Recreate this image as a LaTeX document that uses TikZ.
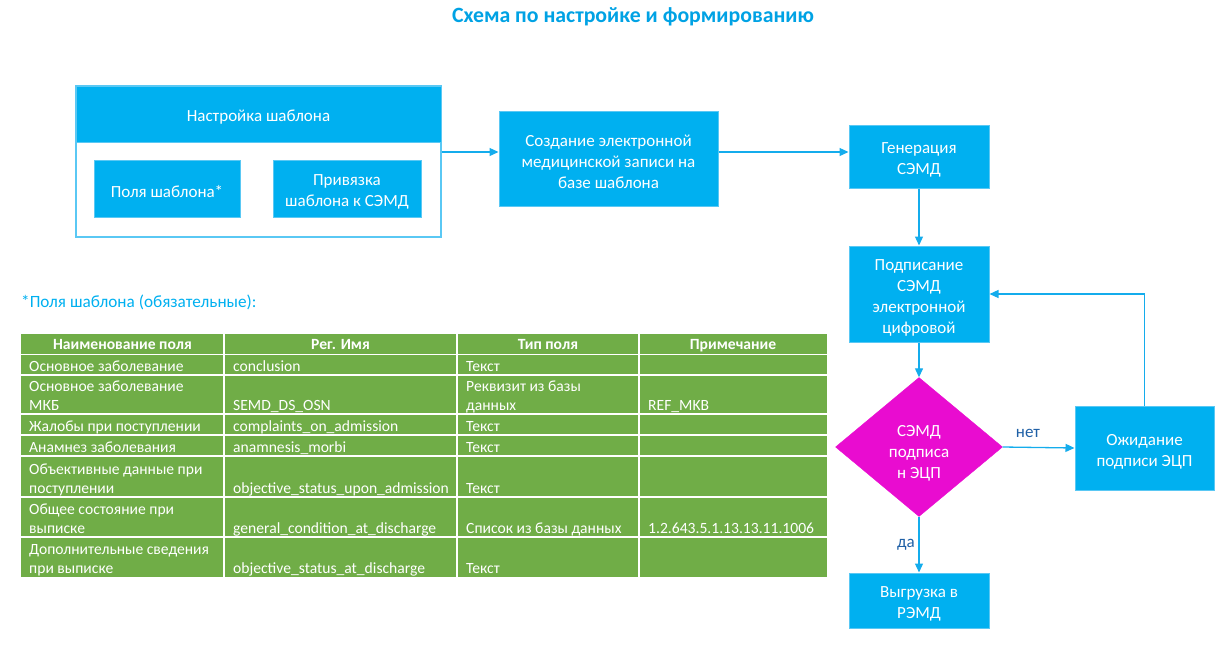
\documentclass[tikz,border=0pt]{standalone}
\usepackage{fontspec}
\setmainfont{Carlito}
\usetikzlibrary{shapes.geometric,arrows.meta}
\definecolor{cyanbox}{RGB}{0,176,240}
\definecolor{cyanline}{RGB}{90,200,244}
\definecolor{arrowc}{RGB}{20,172,236}
\definecolor{tgreen}{RGB}{112,173,71}
\definecolor{magentad}{RGB}{233,12,208}
\definecolor{labelc}{RGB}{31,96,166}
\definecolor{titlec}{RGB}{0,162,228}
\newcommand{\bxfont}{\fontsize{17}{21}\selectfont}
\newcommand{\tbfont}{\fontsize{15.6}{19}\selectfont}
\newcommand{\dn}{\rule{0pt}{18.5pt}}
\newcommand{\ddn}{\rule{0pt}{24.5pt}}
\begin{document}
\begin{tikzpicture}[x=1pt,y=-1pt,
  box/.style={draw=cyanline, line width=1pt, fill=cyanbox, text=white, inner sep=0pt, align=center, font=\bxfont},
  arr/.style={draw=arrowc, line width=1.3pt, -{Triangle[length=9pt,width=8pt]}},
  cell/.style={anchor=base west, inner sep=0pt, text=white, font=\tbfont},
  hcell/.style={anchor=base, inner sep=0pt, text=white, font=\tbfont\bfseries},
  lab/.style={inner sep=0pt, text=labelc, font=\fontsize{17}{20}\selectfont}]
\useasboundingbox (0,0) rectangle (1226,645);

% title
\node[anchor=base, inner sep=0pt, text=titlec, font=\fontsize{21.8}{26}\selectfont\bfseries] (title) at (633,23) {Схема по настройке и формированию};

% template setup group
\node[draw=cyanline, line width=1.2pt, fill=white, minimum width=365pt, minimum height=151pt, inner sep=0pt] (outer) at (258.5,161.5) {};
\node[box, minimum width=365pt, minimum height=56pt] (header) at (258.5,114) {\dn Настройка шаблона};
\node[box, minimum width=146pt, minimum height=57pt] (fields) at (167,188.5) {\dn Поля шаблона*};
\node[box, minimum width=148pt, minimum height=57pt] (bind) at (347,188.5) {\dn Привязка\\шаблона к СЭМД};

\node[box, minimum width=219pt, minimum height=95pt] (create) at (608.5,158.5) {\dn Создание электронной\\медицинской записи на\\базе шаблона};
\node[box, minimum width=140pt, minimum height=63pt] (gen) at (919,156.5) {\dn Генерация\\СЭМД};
\node[box, minimum width=140pt, minimum height=96pt] (sign) at (919,294) {\dn Подписание\\СЭМД\\электронной\\цифровой};
\node[diamond, draw=magentad, fill=magentad, text=white, minimum width=167pt, minimum height=139pt, inner sep=0pt, align=center, font=\bxfont] (dia) at (919,447) {\ddn СЭМД\\подписа\\н ЭЦП};
\node[box, minimum width=139pt, minimum height=84pt] (wait) at (1144.5,448) {\dn Ожидание\\подписи ЭЦП};
\node[box, minimum width=140pt, minimum height=55pt] (upload) at (919,600.5) {\dn Выгрузка в\\РЭМД};

% connectors
\coordinate (r1) at (0,152);
\draw[arr] (outer.east |- r1) -- (create.west |- r1);
\draw[arr] (create.east |- r1) -- (gen.west |- r1);
\draw[arr] (gen.south) -- (sign.north);
\draw[arr] (sign.south) -- (dia.north);
\draw[arr] (dia.east) -- (wait.west);
\draw[arr] (dia.south) -- (upload.north);
\draw[arr] (wait.north) |- (sign.east);
\node[lab] (no) at (1028,433) {нет};
\node[lab] (yes) at (906,545) {да};

% note
\node[anchor=base west, inner sep=0pt, text=cyanbox, font=\fontsize{17.2}{20}\selectfont] (note) at (21,307) {*Поля шаблона (обязательные):};

% table
\fill[tgreen] (21,334) rectangle (827,577);
\foreach \yy in {354.5,375,414,435,456,497,537}
  \draw[white, line width=1.3pt] (21,\yy) -- (827,\yy);
\foreach \xx in {224,457,639}
  \draw[white, line width=1.3pt] (\xx,334) -- (\xx,577);

\node[hcell] (h1) at (122.5,349) {Наименование поля};
\node[hcell] (h2) at (340.5,349) {Рег. Имя};
\node[hcell] (h3) at (548,349) {Тип поля};
\node[hcell] (h4) at (733,349) {Примечание};

\node[cell] (a1) at (29,371) {Основное заболевание};
\node[cell] (b1) at (233,371) {conclusion};
\node[cell] (c1) at (466,371) {Текст};

\node[cell] (a2) at (29,391) {Основное заболевание};
\node[cell] (a2b) at (29,410) {МКБ};
\node[cell] (b2) at (233,410) {SEMD\_DS\_OSN};
\node[cell] (c2) at (466,391) {Реквизит из базы};
\node[cell] (c2b) at (466,410) {данных};
\node[cell] (d2) at (648,410) {REF\_MKB};

\node[cell] (a3) at (29,431) {Жалобы при поступлении};
\node[cell] (b3) at (233,431) {complaints\_on\_admission};
\node[cell] (c3) at (466,431) {Текст};

\node[cell] (a4) at (29,452) {Анамнез заболевания};
\node[cell] (b4) at (233,452) {anamnesis\_morbi};
\node[cell] (c4) at (466,452) {Текст};

\node[cell] (a5) at (29,474) {Объективные данные при};
\node[cell] (a5b) at (29,493) {поступлении};
\node[cell] (b5) at (233,493) {objective\_status\_upon\_admission};
\node[cell] (c5) at (466,493) {Текст};

\node[cell] (a6) at (29,514) {Общее состояние при};
\node[cell] (a6b) at (29,533) {выписке};
\node[cell] (b6) at (233,533) {general\_condition\_at\_discharge};
\node[cell] (c6) at (466,533) {Список из базы данных};
\node[cell] (d6) at (648,533) {1.2.643.5.1.13.13.11.1006};

\node[cell] (a7) at (29,554) {Дополнительные сведения};
\node[cell] (a7b) at (29,573) {при выписке};
\node[cell] (b7) at (233,573) {objective\_status\_at\_discharge};
\node[cell] (c7) at (466,573) {Текст};
\end{tikzpicture}
\end{document}
